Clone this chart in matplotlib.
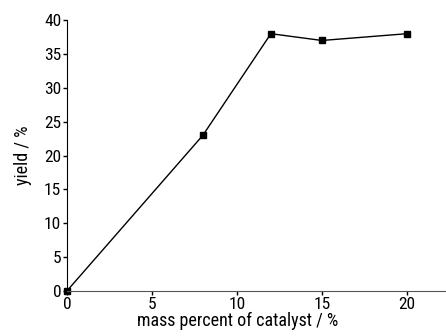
import matplotlib
matplotlib.use("Agg")
import matplotlib.pyplot as plt

# data
catalyst_pct = [0, 8, 12, 15, 20]
yield_pct = [0, 23, 38, 37, 38]
x_ticks = [0, 5, 10, 15, 20]
y_ticks = [0, 5, 10, 15, 20, 25, 30, 35, 40]

# condensed sans, close to the narrow face of the original
plt.rcParams["font.family"] = ["Roboto Condensed", "DejaVu Sans"]

fig = plt.figure(figsize=(4.46, 3.36), dpi=100)
ax = fig.add_axes([0.150, 0.134, 0.85, 0.806])

ax.plot(catalyst_pct, yield_pct, color="black", linewidth=1.0,
        marker="s", markersize=5, markerfacecolor="black", clip_on=False)

ax.set_xlim(0, 22.3)
ax.set_ylim(0, 40)
ax.set_xticks(x_ticks)
ax.set_yticks(y_ticks)
ax.spines["top"].set_visible(False)
ax.spines["right"].set_visible(False)
ax.spines["left"].set_color("black")
ax.spines["bottom"].set_color("#555555")
ax.tick_params(direction="out", length=3, width=1, labelsize=12.5, pad=1)

ax.set_xlabel("mass percent of catalyst / %", fontsize=13)
ax.xaxis.set_label_coords(0.451, -0.078, transform=ax.transAxes)
ax.xaxis.label.set_va("top")
ax.set_ylabel("yield / %", fontsize=13, labelpad=9)

fig.savefig("out.png", dpi=100)
